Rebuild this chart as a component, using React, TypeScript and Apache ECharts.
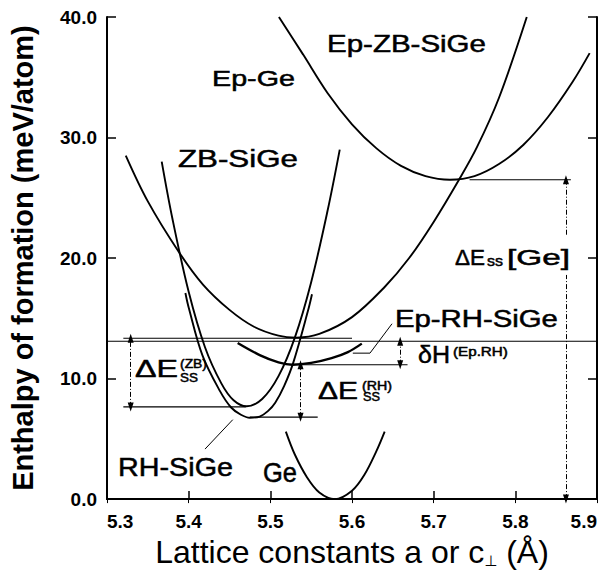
import React, { useEffect, useRef } from "react";
import * as echarts from "echarts";

// ---------- axes ----------
const X_MIN = 5.3;
const X_MAX = 5.9;
const X_STEP = 0.1;
const Y_MIN = 0;
const Y_MAX = 40;
const Y_STEP = 10;

// ---------- curves (lattice constant, enthalpy meV/atom) ----------
const zbSiGeX = [5.367, 5.38, 5.4, 5.42, 5.44, 5.455, 5.471, 5.49, 5.51, 5.53, 5.55, 5.57, 5.585];
const zbSiGeY = [28.0, 23.3, 17.2, 12.6, 9.6, 8.2, 7.7, 8.3, 10.2, 13.4, 18.0, 23.9, 29.0];

const rhSiGeX = [5.396, 5.4, 5.417, 5.438, 5.452, 5.464, 5.475, 5.487, 5.497, 5.506, 5.517, 5.528, 5.546, 5.551];
const rhSiGeY = [17.1, 15.9, 11.9, 9.0, 7.6, 7.0, 6.75, 6.85, 7.3, 8.0, 9.4, 11.3, 15.6, 17.0];

const geX = [5.519, 5.53, 5.545, 5.56, 5.579, 5.6, 5.615, 5.63, 5.64];
const geY = [5.6, 3.7, 1.8, 0.55, 0.0, 0.7, 2.0, 4.0, 5.6];

const epZbX = [5.323, 5.35, 5.388, 5.4175, 5.45, 5.48, 5.51, 5.532, 5.56, 5.6, 5.64, 5.67, 5.7, 5.731, 5.753, 5.78, 5.814];
const epZbY = [28.5, 24.7, 20.5, 17.8, 15.7, 14.3, 13.56, 13.4, 13.7, 15.1, 17.6, 20.0, 23.0, 26.5, 29.2, 33.3, 40.0];

const epGeX = [5.5105, 5.54, 5.57, 5.6, 5.63, 5.66, 5.69, 5.72, 5.75, 5.78, 5.81, 5.84, 5.87, 5.891];
const epGeY = [40.0, 36.9, 33.7, 31.1, 29.1, 27.65, 26.8, 26.5, 26.8, 27.8, 29.4, 31.7, 34.6, 37.0];

const epRhX = [5.46, 5.487, 5.51, 5.527, 5.55, 5.575, 5.595, 5.612];
const epRhY = [12.95, 11.95, 11.35, 11.15, 11.3, 11.7, 12.2, 12.9];

// ---------- reference levels (horizontal lines) ----------
const levelY = [13.1, 13.35, 7.65, 6.8, 11.15, 26.5];
const levelX0 = [5.3, 5.32, 5.32, 5.475, 5.527, 5.744];
const levelX1 = [5.9, 5.6, 5.47, 5.558, 5.668, 5.868];

// ---------- double arrows ----------
const arrowX = [5.329, 5.537, 5.659];
const arrowY0 = [7.65, 6.8, 11.15];
const arrowY1 = [13.35, 11.15, 13.1];
const geArrowX = 5.862;
const geArrowTop = [26.5, 21.9];
const geArrowBottom = [0, 18.6];

// ---------- leader lines ----------
const rhLeaderX = [5.42, 5.454];
const rhLeaderY = [4.15, 6.59];
const epRhLeaderX = [5.649, 5.622, 5.601];
const epRhLeaderY = [14.55, 12.11, 12.11];

const zip = (xs: number[], ys: number[]) => xs.map((x, i) => [x, ys[i]]);

const FONT = "Liberation Sans";

type Part = { t: string; dx: number; dy: number; size: number; w: number; weight?: string; family?: string };
type Label = { x: number; y: number; parts: Part[] };

const labels: Label[] = [
  { x: 5.5694, y: 37.76, parts: [{ t: "Ep-ZB-SiGe", dx: 0, dy: 0, size: 23, w: 159 }] },
  { x: 5.4286, y: 34.88, parts: [{ t: "Ep-Ge", dx: 0, dy: 0, size: 22, w: 83 }] },
  { x: 5.3869, y: 28.21, parts: [{ t: "ZB-SiGe", dx: 0, dy: 0, size: 24, w: 120 }] },
  { x: 5.6526, y: 14.96, parts: [{ t: "Ep-RH-SiGe", dx: 0, dy: 0, size: 23, w: 163 }] },
  { x: 5.3135, y: 2.64, parts: [{ t: "RH-SiGe", dx: 0, dy: 0, size: 26, w: 115 }] },
  { x: 5.491, y: 2.2, parts: [{ t: "Ge", dx: 0, dy: 0, size: 27, w: 34 }] },
  {
    x: 5.3343, y: 10.81, parts: [
      { t: "ΔE", dx: 0, dy: 0, size: 24, w: 43 },
      { t: "(ZB)", dx: 45, dy: -5, size: 12, w: 27 },
      { t: "SS", dx: 45, dy: 9, size: 12.5, w: 18 },
    ],
  },
  {
    x: 5.5584, y: 8.98, parts: [
      { t: "ΔE", dx: 0, dy: 0, size: 24, w: 40 },
      { t: "(RH)", dx: 44, dy: -4.5, size: 12, w: 30 },
      { t: "SS", dx: 45, dy: 6.5, size: 12.5, w: 17 },
    ],
  },
  {
    x: 5.6808, y: 11.99, parts: [
      { t: "δH", dx: 0, dy: 0, size: 24, w: 32 },
      { t: "(Ep.RH)", dx: 35, dy: -3, size: 12, w: 55 },
    ],
  },
  {
    x: 5.7261, y: 20.08, parts: [
      { t: "ΔE", dx: 0, dy: 0, size: 22, w: 30 },
      { t: "ss", dx: 32, dy: 4, size: 15, w: 16 },
      { t: "[Ge]", dx: 52, dy: 0, size: 22, w: 63 },
    ],
  },
];

export default function App() {
  const ref = useRef<HTMLDivElement>(null);

  useEffect(() => {
    if (!ref.current) return;
    const chart = echarts.init(ref.current, null, { renderer: "svg" });

    const black = "#000";
    const curveSeries = [
      zip(zbSiGeX, zbSiGeY),
      zip(rhSiGeX, rhSiGeY),
      zip(geX, geY),
      zip(epZbX, epZbY),
      zip(epGeX, epGeY),
      zip(epRhX, epRhY),
    ].map((data, i) => ({
      type: "line",
      data,
      smooth: 0.35,
      symbol: "none",
      silent: true,
      lineStyle: { color: black, width: i === 5 ? 2.4 : 1.9 },
      z: 3,
    }));

    const levelSeries = levelY.map((y, i) => ({
      type: "line",
      data: [
        [levelX0[i], y],
        [levelX1[i], y],
      ],
      symbol: "none",
      silent: true,
      lineStyle: { color: black, width: 1.1 },
      z: 2,
    }));

    const leaderSeries = [zip(rhLeaderX, rhLeaderY), zip(epRhLeaderX, epRhLeaderY)].map((data) => ({
      type: "line",
      data,
      symbol: "none",
      silent: true,
      lineStyle: { color: black, width: 1 },
      z: 2,
    }));

    const arrowData: any[] = arrowX.map((x, i) => [
      { coord: [x, arrowY0[i]], symbol: "triangle" },
      { coord: [x, arrowY1[i]], symbol: "triangle" },
    ]);
    arrowData.push([
      { coord: [geArrowX, geArrowTop[0]], symbol: "triangle" },
      { coord: [geArrowX, geArrowTop[1]], symbol: "none" },
    ]);
    arrowData.push([
      { coord: [geArrowX, geArrowBottom[0]], symbol: "triangle" },
      { coord: [geArrowX, geArrowBottom[1]], symbol: "none" },
    ]);

    const arrowSeries = {
      type: "line",
      data: [],
      symbol: "none",
      silent: true,
      markLine: {
        silent: true,
        animation: false,
        symbol: ["triangle", "triangle"],
        symbolSize: [6, 9],
        label: { show: false },
        lineStyle: { color: black, width: 1, type: [5, 2, 1, 2] },
        itemStyle: { color: black },
        emphasis: { disabled: true },
        data: arrowData,
      },
    };

    const tickLabel = {
      color: black,
      fontFamily: FONT,
      fontWeight: "bold",
      fontSize: 19,
    };

    chart.setOption({
      animation: false,
      grid: { left: 107, right: 7, top: 17, bottom: 64 },
      xAxis: [
        {
          type: "value",
          min: X_MIN,
          max: X_MAX,
          interval: X_STEP,
          position: "bottom",
          axisLine: { show: true, lineStyle: { color: black, width: 2 } },
          axisTick: { show: true, inside: true, length: 8, lineStyle: { color: black, width: 1.5 } },
          splitLine: { show: false },
          axisLabel: {
            ...tickLabel,
            margin: 13,
            formatter: (v: number) => v.toFixed(1),
            alignMinLabel: "left",
            alignMaxLabel: "right",
          },
          name: "{a|Lattice constants a or c}{b|⊥}{a| (Å)}",
          nameLocation: "middle",
          nameGap: 27,
          nameTextStyle: {
            rich: {
              a: { fontFamily: FONT, fontSize: 32, color: black },
              b: { fontFamily: "DejaVu Sans", fontSize: 15, color: black, verticalAlign: "bottom" },
            },
          },
        },
        {
          type: "value",
          min: X_MIN,
          max: X_MAX,
          interval: X_STEP,
          position: "top",
          axisLine: { show: true, lineStyle: { color: black, width: 2 } },
          axisTick: { show: true, inside: true, length: 4, lineStyle: { color: black, width: 1 } },
          axisLabel: { show: false },
          splitLine: { show: false },
        },
      ],
      yAxis: [
        {
          type: "value",
          min: Y_MIN,
          max: Y_MAX,
          interval: Y_STEP,
          position: "left",
          axisLine: { show: true, lineStyle: { color: black, width: 2 } },
          axisTick: { show: true, inside: true, length: 9, lineStyle: { color: black, width: 1.5 } },
          splitLine: { show: false },
          axisLabel: { ...tickLabel, margin: 10, formatter: (v: number) => v.toFixed(1) },
          name: "Enthalpy of formation (meV/atom)",
          nameLocation: "middle",
          nameRotate: 90,
          nameGap: 70,
          nameTextStyle: { fontFamily: FONT, fontWeight: "bold", fontSize: 29, color: black },
        },
        {
          type: "value",
          min: Y_MIN,
          max: Y_MAX,
          interval: Y_STEP,
          position: "right",
          axisLine: { show: true, lineStyle: { color: black, width: 2 } },
          axisTick: { show: true, inside: true, length: 9, lineStyle: { color: black, width: 1.5 } },
          axisLabel: { show: false },
          splitLine: { show: false },
        },
      ],
      series: [...curveSeries, ...levelSeries, ...leaderSeries, arrowSeries],
    });

    // annotation texts, positioned through the axes
    const canvas = document.createElement("canvas");
    const ctx = canvas.getContext("2d");
    const graphics: any[] = [];
    labels.forEach((lb) => {
      const p = chart.convertToPixel({ gridIndex: 0 }, [lb.x, lb.y]) as number[];
      lb.parts.forEach((pt) => {
        const font = `${pt.weight || "normal"} ${pt.size}px "${pt.family || FONT}"`;
        let sx = 1;
        if (ctx) {
          ctx.font = font;
          const mw = ctx.measureText(pt.t).width;
          if (mw > 0) sx = pt.w / mw;
        }
        graphics.push({
          type: "text",
          x: p[0] + pt.dx,
          y: p[1] + pt.dy,
          scaleX: sx,
          silent: true,
          z: 10,
          style: {
            text: pt.t,
            font,
            fill: black,
            stroke: black,
            lineWidth: 0.5,
            align: "left",
            verticalAlign: "middle",
          },
        });
      });
    });
    chart.setOption({ graphic: graphics });

    return () => chart.dispose();
  }, []);

  return <div ref={ref} style={{ position: "absolute", left: 0, top: 0, width: 604, height: 573 }} />;
}
